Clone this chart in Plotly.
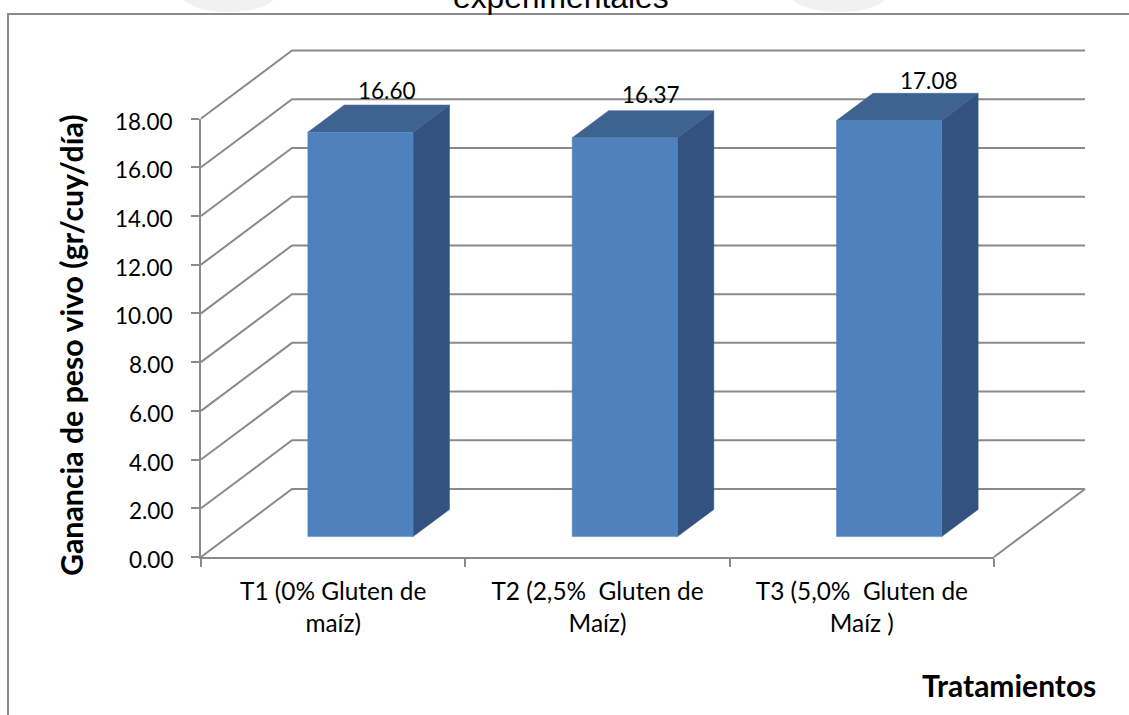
import plotly.graph_objects as go

categories = ["T1 (0% Gluten de<br>maíz)", "T2 (2,5%  Gluten de<br>Maíz)", "T3 (5,0%  Gluten de<br>Maíz )"]
values = [16.60, 16.37, 17.08]
value_labels = ["16.60", "16.37", "17.08"]
y_ticks = [0, 2, 4, 6, 8, 10, 12, 14, 16, 18]
y_tick_labels = ["0.00", "2.00", "4.00", "6.00", "8.00", "10.00", "12.00", "14.00", "16.00", "18.00"]
title_text = "experimentales"
y_title = "Ganancia de peso vivo (gr/cuy/día)"
x_title = "Tratamientos"

# oblique projection of the chart depth, in axis units
DX, DY = 0.3443, 2.79
BAR_W = 0.398
BAR_D0, BAR_D1 = 0.30, 0.70
GRID = "#8a8a8a"
FRONT, TOP, SIDE = "#4F81BD", "#3E6391", "#325380"
FONT = "Lato"
W, H = 1129, 715
AX_L, AX_R, AX_T, AX_B = 201, 994, 118.5, 557
label_shift = [-10, -10, 3]
label_lift = [15, 16, 13]

# the second axis pair has the scale of the visible axes but spans the whole canvas
ux = (AX_R - AX_L) / 3
uy = (AX_B - AX_T) / 18
x2_range = [-AX_L / ux, (W - AX_L) / ux]
y2_range = [-(H - AX_B) / uy, AX_B / uy]


def p(x, v, d):
    return x + d * DX, v + d * DY


def poly(pts, color):
    xs, ys = zip(*pts)
    return go.Scatter(x=list(xs) + [xs[0]], y=list(ys) + [ys[0]], xaxis="x2", yaxis="y2", mode="lines",
                      fill="toself", fillcolor=color, line=dict(color=color, width=0.5),
                      hoverinfo="skip", showlegend=False)


fig = go.Figure()

# invisible trace that keeps the visible axes alive
fig.add_trace(go.Scatter(x=[0.5, 1.5, 2.5], y=values, mode="markers", marker=dict(opacity=0),
                         hoverinfo="skip", showlegend=False))

# walls and floor
for v in y_ticks:
    a, b, c = p(0, v, 0), p(0, v, 1), p(3, v, 1)
    fig.add_trace(go.Scatter(x=[a[0], b[0], c[0]], y=[a[1], b[1], c[1]], xaxis="x2", yaxis="y2", mode="lines",
                             line=dict(color=GRID, width=2), hoverinfo="skip", showlegend=False))
a, b = p(3, 0, 0), p(3, 0, 1)
fig.add_trace(go.Scatter(x=[a[0], b[0]], y=[a[1], b[1]], xaxis="x2", yaxis="y2", mode="lines",
                         line=dict(color=GRID, width=2), hoverinfo="skip", showlegend=False))

# bars
for i, v in enumerate(values):
    x0, x1 = i + 0.5 - BAR_W / 2, i + 0.5 + BAR_W / 2
    fig.add_trace(poly([p(x1, 0, BAR_D0), p(x1, 0, BAR_D1), p(x1, v, BAR_D1), p(x1, v, BAR_D0)], SIDE))
    fig.add_trace(poly([p(x0, v, BAR_D0), p(x1, v, BAR_D0), p(x1, v, BAR_D1), p(x0, v, BAR_D1)], TOP))
    fig.add_trace(poly([p(x0, 0, BAR_D0), p(x1, 0, BAR_D0), p(x1, v, BAR_D0), p(x0, v, BAR_D0)], FRONT))
    lx, ly = p(i + 0.5, v, BAR_D1)
    fig.add_annotation(xref="x2", yref="y2", x=lx, y=ly, text=value_labels[i], showarrow=False,
                       xshift=label_shift[i], yshift=label_lift[i],
                       font=dict(family=FONT, size=22.5, color="#000000"))

# y tick labels sit slightly under their tick marks, as in the reference
for v, t in zip(y_ticks, y_tick_labels):
    fig.add_annotation(xref="paper", yref="y", x=175 / W, y=v, xanchor="right", yanchor="middle", text=t,
                       showarrow=False, yshift=-2.5, font=dict(family=FONT, size=22.5, color="#000000"))

# faint watermark fragments above the frame
for xa, xb in [(181, 276), (790, 888)]:
    fig.add_shape(type="circle", xref="paper", yref="paper", x0=xa / W, x1=xb / W,
                  y0=1 - 12 / H, y1=1 + 24 / H, fillcolor="#f1f1f1", line=dict(width=0), layer="below")

# outer frame, running off the right and bottom of the page
fig.add_shape(type="rect", xref="paper", yref="paper", x0=8 / W, x1=(W + 20) / W,
              y0=-20 / H, y1=1 - 14 / H, line=dict(color="#8a8a8a", width=2), layer="above")

# the title runs off the top of the page in the reference
fig.add_annotation(xref="paper", yref="paper", x=560.5 / W, y=1, xanchor="center", yanchor="middle", yshift=3,
                   text=title_text, showarrow=False, font=dict(family="Liberation Sans", size=31.8, color="#000000"))
fig.add_annotation(xref="paper", yref="paper", x=1098 / W, y=1 - 684.5 / H, xanchor="right", yanchor="middle",
                   text="<b>%s</b>" % x_title, showarrow=False, font=dict(family=FONT, size=30, color="#000000"))
fig.add_annotation(xref="paper", yref="paper", x=71 / W, y=1 - 345 / H, xanchor="center", yanchor="middle",
                   text="<b>%s</b>" % y_title, textangle=-90, showarrow=False,
                   font=dict(family=FONT, size=30.3, color="#000000"))

fig.update_layout(
    width=W, height=H, autosize=False, showlegend=False,
    margin=dict(l=0, r=0, t=0, b=0, autoexpand=False),
    paper_bgcolor="white", plot_bgcolor="rgba(0,0,0,0)",
    xaxis=dict(domain=[AX_L / W, AX_R / W], range=[0, 3], anchor="y", tickmode="array", tickvals=[0.5, 1.5, 2.5],
               ticktext=categories, ticks="outside", ticklen=12, tickcolor="rgba(0,0,0,0)",
               showgrid=False, zeroline=False, showline=True, linecolor=GRID, linewidth=2,
               tickfont=dict(family=FONT, size=24.4, color="#000000"),
               minor=dict(tickmode="array", tickvals=[0, 1, 2, 3], ticks="outside", ticklen=8,
                          tickcolor=GRID, tickwidth=1.5, showgrid=False)),
    yaxis=dict(domain=[1 - AX_B / H, 1 - AX_T / H], range=[0, 18], anchor="x", tickmode="array", tickvals=y_ticks,
               showticklabels=False, ticks="outside", ticklen=8, tickcolor=GRID, tickwidth=1.5,
               showgrid=False, zeroline=False, showline=True, linecolor=GRID, linewidth=2),
    xaxis2=dict(domain=[0, 1], range=x2_range, anchor="y2", visible=False, fixedrange=True),
    yaxis2=dict(domain=[0, 1], range=y2_range, anchor="x2", visible=False, fixedrange=True),
)

fig.write_html("out.html", config={"displayModeBar": False},
               post_script="document.body.style.margin='0';document.body.style.overflow='hidden';")
